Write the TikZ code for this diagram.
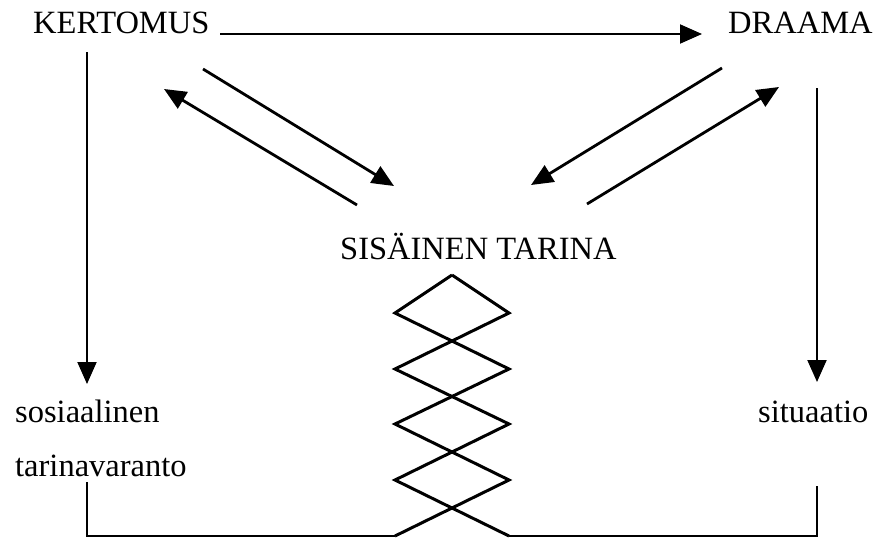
\documentclass[tikz,border=0pt]{standalone}
\usepackage{fontspec}
\setmainfont{Liberation Serif}
\usetikzlibrary{arrows.meta}
\begin{document}
\begin{tikzpicture}[x=1pt,y=-1pt,
  lbl/.style={inner sep=0pt,anchor=base west,font=\fontsize{32.5}{38}\selectfont},
  thin line/.style={line width=2pt},
  arr/.style={line width=2.8pt,-{Triangle[length=22pt,width=19pt]}},
  straight/.style={line width=2pt},
  zz/.style={line width=3pt,line join=miter}]
\useasboundingbox (0,0) rectangle (875,538);
% texts
\node[lbl] (kert) at (33,33) {KERTOMUS};
\node[lbl] (draa) at (728,33) {DRAAMA};
\node[lbl] (sis) at (340,259) {SIS\"AINEN TARINA};
\node[lbl] (sos) at (15,422) {sosiaalinen};
\node[lbl] (tar) at (15,476) {tarinavaranto};
\node[lbl] (sit) at (758,422) {situaatio};
% coordinates
\coordinate (h1) at (220,34);
\coordinate (h2) at (702,34);
\coordinate (l1) at (87,52);
\coordinate (l2) at (87,384);
\coordinate (r1) at (817,88);
\coordinate (r2) at (817,382);
\coordinate (d1a) at (203,69);
\coordinate (d1b) at (394,186);
\coordinate (d2a) at (357,205);
\coordinate (d2b) at (164,89);
\coordinate (d3a) at (722,68);
\coordinate (d3b) at (531,185);
\coordinate (d4a) at (587,204);
\coordinate (d4b) at (779,87);
\coordinate (bl) at (87,482);
\coordinate (br) at (817,486);
\coordinate (top) at (452,275);
% arrows
\draw[arr,straight] (h1) -- (h2);
\draw[arr,straight] (l1) -- (l2);
\draw[arr,straight] (r1) -- (r2);
\draw[arr] (d1a) -- (d1b);
\draw[arr] (d2a) -- (d2b);
\draw[arr] (d3a) -- (d3b);
\draw[arr] (d4a) -- (d4b);
% zigzag braid
\draw[zz] (top) -- (395,313) -- (509,369) -- (395,424) -- (509,480) -- (395,536);
\draw[zz] (top) -- (509,313) -- (395,369) -- (509,424) -- (395,480) -- (509,536);
% bottom connectors
\draw[thin line] (bl) |- (395,536);
\draw[thin line] (br) |- (509,536);
\end{tikzpicture}
\end{document}
